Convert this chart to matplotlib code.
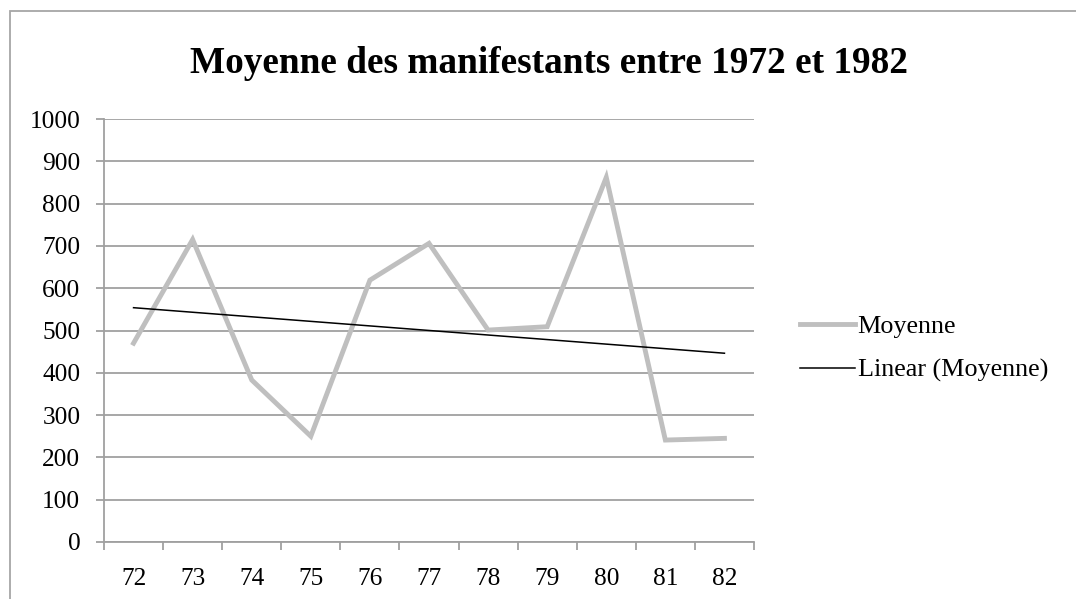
import numpy as np
import matplotlib
matplotlib.use("Agg")
import matplotlib.pyplot as plt
from matplotlib.patches import Rectangle

years = ["72", "73", "74", "75", "76", "77", "78", "79", "80", "81", "82"]
moyenne = [470, 715, 383, 250, 619, 706, 501, 509, 862, 241, 245]

plt.rcParams["font.family"] = ["Liberation Serif", "DejaVu Serif"]

fig = plt.figure(figsize=(10.76, 5.99), dpi=100)
ax = fig.add_axes([104 / 1076, 1 - 542 / 599, 650 / 1076, 423 / 599])

x = np.arange(len(years))
# linear trend like Excel's "Linear (Moyenne)"
coef = np.polyfit(x, moyenne, 1)
trend = np.polyval(coef, x)

ax.plot(x, moyenne, color="#bfbfbf", lw=3.5, solid_joinstyle="miter", label="Moyenne")
ax.plot(x, trend, color="black", lw=1.1, label="Linear (Moyenne)")

ax.set_xlim(-0.5, len(years) - 0.5)
ax.set_ylim(0, 1000)
ax.set_yticks(range(0, 1001, 100))
ax.set_xticks(x)
ax.set_xticklabels(years)
ax.set_xticks(np.arange(-0.5, len(years)), minor=True)
ax.grid(axis="y", color="#a0a0a0", lw=1.3)
ax.set_axisbelow(True)

for s in ["top", "right"]:
    ax.spines[s].set_visible(False)
for s in ["left", "bottom"]:
    ax.spines[s].set_color("#a0a0a0")
    ax.spines[s].set_linewidth(1.3)

ax.tick_params(axis="y", length=6, width=1.3, color="#a0a0a0", pad=11, labelsize=18.3)
ax.tick_params(axis="x", which="major", length=0, pad=19, labelsize=18.3)
ax.tick_params(axis="x", which="minor", length=6, width=1.3, color="#a0a0a0")

ax.legend(loc="center left", bbox_to_anchor=(1.071, 0.457), frameon=False,
          fontsize=18.8, borderpad=0, borderaxespad=0, handlelength=2.1,
          handletextpad=0.1, labelspacing=0.78)

fig.text(0.5105, 1 - 73 / 599, "Moyenne des manifestants entre 1972 et 1982",
         ha="center", va="baseline", fontsize=26.8, fontweight="bold")

fig.add_artist(Rectangle((9.5 / 1076, -0.1), 1.2, 0.9816 + 0.1, transform=fig.transFigure,
                         fill=False, edgecolor="#a6a6a6", lw=1.3))

fig.savefig("out.png", dpi=100)
